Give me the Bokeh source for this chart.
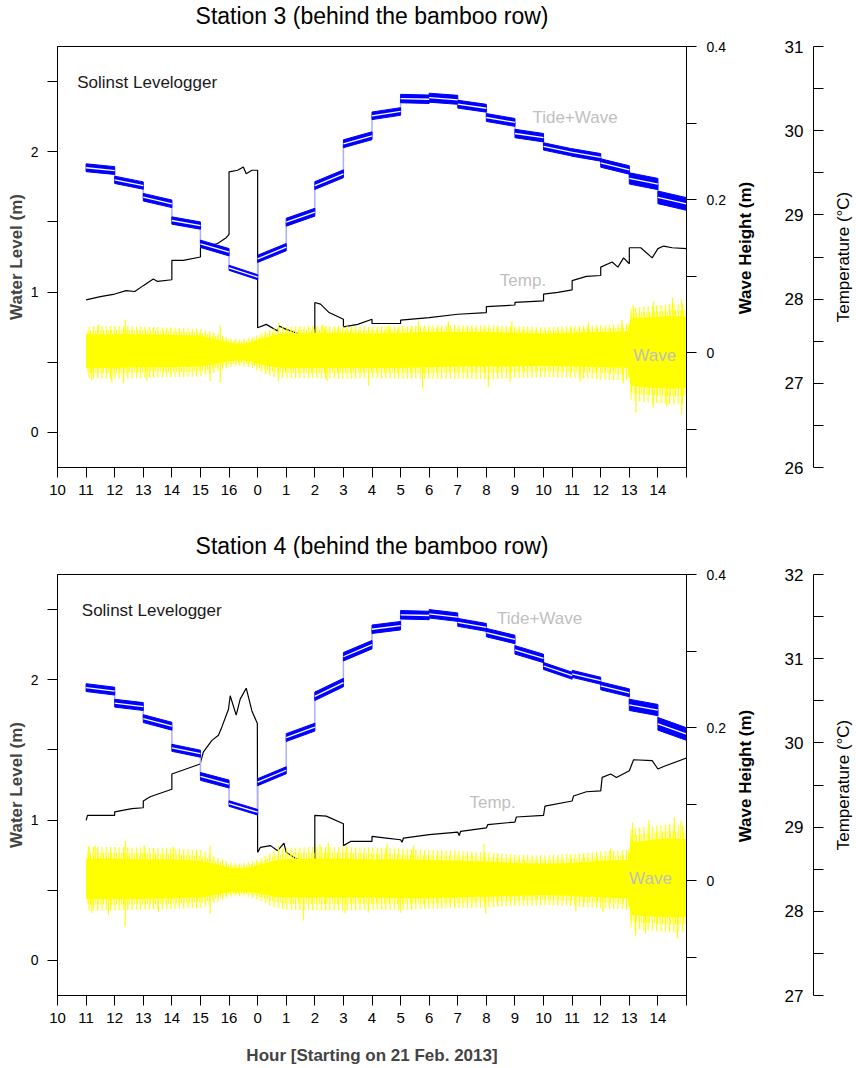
import math
from bokeh.plotting import figure
from bokeh.models import Range1d, LinearAxis, FixedTicker, Label
from bokeh.layouts import row, column
from bokeh.embed import file_html
from bokeh.resources import INLINE
from bokeh.core.properties import value

FONT = "Liberation Sans"

# ---------------- data ----------------
hour_labels = ["10", "11", "12", "13", "14", "15", "16"] + [str(i) for i in range(15)] + [""]
seg_x0 = list(range(1, 22))  # hourly segments (11h ... 14h next day)

# Station 3 : tide+wave mean level per hourly segment (m)
st3_tide_start = [1.886, 1.800, 1.676, 1.510, 1.344, 1.173, 1.237, 1.498, 1.759, 2.057, 2.256,
                  2.379, 2.385, 2.339, 2.244, 2.130, 2.038, 1.995, 1.920, 1.810, 1.675]
st3_tide_end = [1.866, 1.759, 1.629, 1.474, 1.284, 1.106, 1.320, 1.569, 1.843, 2.114, 2.287,
                2.374, 2.370, 2.310, 2.209, 2.100, 1.995, 1.960, 1.870, 1.770, 1.628]
st3_tide_half = [0.028, 0.026, 0.027, 0.026, 0.026, 0.018, 0.026, 0.028, 0.028, 0.028, 0.027,
                 0.030, 0.032, 0.028, 0.028, 0.030, 0.026, 0.027, 0.030, 0.040, 0.045]

st3_temp_x = [1.0, 1.5, 2.0, 2.4, 2.7, 3.0, 3.35, 3.5, 4.0, 4.0, 4.4, 5.0, 5.0, 5.6, 5.9, 6.0, 6.0,
              6.3, 6.5, 6.6, 6.8, 7.0, 7.0, 7.3, 7.7, 7.75, 8.0, 8.5, 9.0, 9.0, 9.2, 9.5, 10.0, 10.0,
              10.5, 11.0, 11.0, 11.5, 12.0, 12.0, 13.0, 14.0, 15.0, 15.0, 16.0, 16.0, 17.0, 17.0,
              17.5, 18.0, 18.0, 18.5, 19.0, 19.0, 19.4, 19.6, 19.8, 20.0, 20.0, 20.4, 20.8, 21.0,
              21.2, 21.5, 22.0]
st3_temp_y = [27.99, 28.03, 28.06, 28.10, 28.09, 28.16, 28.24, 28.21, 28.23, 28.46, 28.46, 28.50,
              28.61, 28.66, 28.73, 28.77, 29.51, 29.53, 29.57, 29.49, 29.53, 29.53, 27.66, 27.70,
              27.62, 27.68, 27.64, 27.58, 27.53, 27.96, 27.94, 27.84, 27.76, 27.67, 27.70, 27.76,
              27.71, 27.71, 27.71, 27.75, 27.78, 27.82, 27.84, 27.91, 27.93, 27.96, 27.98, 28.06,
              28.08, 28.11, 28.22, 28.27, 28.28, 28.38, 28.44, 28.38, 28.49, 28.42, 28.61, 28.61,
              28.49, 28.60, 28.63, 28.61, 28.60]

wave_x = [1, 2, 3, 4, 5, 5.6, 6.0, 6.4, 6.8, 7.2, 7.6, 8, 9, 10, 11, 12, 13, 14, 15, 16, 17,
          18, 19, 19.95, 20.05, 20.5, 21, 21.5, 22]
st3_core_hi = [0.024, 0.024, 0.024, 0.023, 0.022, 0.017, 0.013, 0.011, 0.014, 0.019, 0.023, 0.025,
               0.026, 0.026, 0.025, 0.026, 0.027, 0.027, 0.027, 0.026, 0.025, 0.026, 0.027, 0.028,
               0.045, 0.046, 0.047, 0.048, 0.047]
st3_core_lo = [-0.020, -0.020, -0.019, -0.019, -0.018, -0.014, -0.011, -0.010, -0.012, -0.016,
               -0.019, -0.020, -0.020, -0.020, -0.020, -0.020, -0.019, -0.018, -0.018, -0.018,
               -0.017, -0.018, -0.019, -0.020, -0.043, -0.045, -0.046, -0.047, -0.046]
st3_fringe_hi = [0.034, 0.035, 0.034, 0.033, 0.031, 0.025, 0.019, 0.017, 0.020, 0.027, 0.032,
                 0.034, 0.035, 0.035, 0.034, 0.035, 0.036, 0.036, 0.036, 0.035, 0.033, 0.035,
                 0.036, 0.037, 0.058, 0.060, 0.062, 0.064, 0.063]
st3_fringe_lo = [-0.033, -0.034, -0.033, -0.032, -0.031, -0.025, -0.019, -0.017, -0.020, -0.027,
                 -0.032, -0.033, -0.033, -0.034, -0.033, -0.034, -0.034, -0.034, -0.035, -0.033,
                 -0.032, -0.033, -0.035, -0.036, -0.062, -0.064, -0.066, -0.068, -0.066]
st3_up_x = [1.43, 2.37, 5.69, 7.73, 9.28, 11.57, 12.62, 13.67, 15.89, 18.57, 19.74, 20.14, 20.84,
            21.51, 21.83]
st3_up_y = [0.037, 0.043, 0.036, 0.039, 0.037, 0.036, 0.041, 0.041, 0.041, 0.039, 0.043, 0.062,
            0.067, 0.072, 0.070]
st3_dn_x = [1.2, 1.90, 2.31, 3.13, 5.34, 5.69, 7.73, 9.42, 10.88, 12.77, 15.07, 15.83, 18.28,
            19.79, 20.23, 20.84, 21.31, 21.83]
st3_dn_y = [-0.036, -0.039, -0.040, -0.037, -0.037, -0.039, -0.037, -0.037, -0.043, -0.047,
            -0.045, -0.038, -0.038, -0.040, -0.078, -0.072, -0.070, -0.080]

# Station 4
st4_tide_start = [1.944, 1.833, 1.723, 1.515, 1.311, 1.118, 1.270, 1.588, 1.882, 2.164, 2.360,
                  2.463, 2.470, 2.409, 2.336, 2.213, 2.098, 2.042, 1.956, 1.821, 1.686]
st4_tide_end = [1.919, 1.809, 1.669, 1.473, 1.257, 1.056, 1.355, 1.662, 1.980, 2.250, 2.385,
                2.458, 2.446, 2.373, 2.287, 2.152, 2.029, 1.993, 1.907, 1.784, 1.613]
st4_tide_half = [0.028, 0.028, 0.028, 0.025, 0.028, 0.020, 0.025, 0.028, 0.030, 0.030, 0.030,
                 0.030, 0.030, 0.028, 0.030, 0.030, 0.025, 0.025, 0.028, 0.040, 0.045]

st4_temp_x = [1.0, 1.05, 2.0, 2.0, 2.6, 3.0, 3.0, 3.24, 4.0, 4.0, 4.99, 5.1, 5.4, 5.63, 5.75, 5.98,
              6.04, 6.25, 6.39, 6.6, 6.8, 6.99, 7.0, 7.1, 7.45, 7.7, 7.92, 8.0, 8.5, 9.0, 9.0, 9.4,
              10.0, 10.0, 10.25, 11.0, 11.0, 11.5, 12.0, 12.05, 12.1, 13.0, 14.0, 14.05, 14.1,
              15.0, 15.05, 16.0, 16.05, 17.0, 17.05, 18.0, 18.05, 18.5, 19.0, 19.05, 19.35, 19.55,
              20.0, 20.15, 20.8, 21.0, 21.2, 22.0]
st4_temp_y = [29.08, 29.14, 29.14, 29.18, 29.22, 29.23, 29.31, 29.36, 29.45, 29.63, 29.75, 29.89,
              30.03, 30.09, 30.19, 30.40, 30.56, 30.33, 30.52, 30.65, 30.38, 30.23, 28.70, 28.76,
              28.78, 28.72, 28.81, 28.70, 28.59, 28.57, 29.14, 29.13, 29.04, 28.78, 28.83, 28.83,
              28.89, 28.87, 28.85, 28.82, 28.87, 28.91, 28.94, 28.90, 28.95, 28.99, 29.03, 29.06,
              29.12, 29.14, 29.25, 29.31, 29.37, 29.42, 29.43, 29.59, 29.63, 29.59, 29.67, 29.80,
              29.79, 29.69, 29.72, 29.82]

st4_core_hi = [0.029, 0.029, 0.028, 0.028, 0.026, 0.021, 0.017, 0.016, 0.018, 0.022, 0.026, 0.028,
               0.029, 0.029, 0.028, 0.028, 0.027, 0.026, 0.025, 0.023, 0.022, 0.023, 0.026, 0.027,
               0.050, 0.052, 0.054, 0.055, 0.054]
st4_core_lo = [-0.024, -0.024, -0.024, -0.023, -0.022, -0.018, -0.015, -0.014, -0.015, -0.018,
               -0.021, -0.022, -0.022, -0.022, -0.022, -0.023, -0.023, -0.022, -0.021, -0.020,
               -0.019, -0.020, -0.022, -0.023, -0.045, -0.046, -0.047, -0.048, -0.047]
st4_fringe_hi = [0.044, 0.044, 0.043, 0.042, 0.040, 0.030, 0.024, 0.022, 0.025, 0.031, 0.039,
                 0.043, 0.044, 0.044, 0.043, 0.042, 0.040, 0.039, 0.037, 0.034, 0.033, 0.035,
                 0.038, 0.040, 0.068, 0.070, 0.072, 0.074, 0.072]
st4_fringe_lo = [-0.039, -0.039, -0.038, -0.037, -0.036, -0.028, -0.021, -0.020, -0.022, -0.028,
                 -0.035, -0.038, -0.039, -0.039, -0.038, -0.038, -0.037, -0.036, -0.035, -0.033,
                 -0.032, -0.033, -0.036, -0.038, -0.062, -0.064, -0.066, -0.068, -0.066]
st4_up_x = [1.08, 1.32, 2.37, 3.03, 4.05, 5.34, 7.73, 9.18, 9.47, 10.1, 11.52, 12.45, 14.92,
            19.35, 20.11, 20.69, 21.57, 21.8]
st4_up_y = [0.045, 0.046, 0.052, 0.046, 0.044, 0.046, 0.046, 0.047, 0.049, 0.046, 0.048, 0.046,
            0.048, 0.042, 0.076, 0.079, 0.083, 0.078]
st4_dn_x = [1.2, 1.78, 2.37, 3.53, 5.34, 8.6, 10.06, 10.87, 11.99, 14.98, 18.13, 19.07, 20.22,
            20.57, 21.68]
st4_dn_y = [-0.042, -0.045, -0.060, -0.041, -0.043, -0.052, -0.043, -0.042, -0.042, -0.043,
            -0.040, -0.041, -0.072, -0.069, -0.075]

assert len(st3_temp_x) == len(st3_temp_y) and len(st4_temp_x) == len(st4_temp_y)

MAIN_W = 736
TOP = 16      # border above each frame (below its title strip)
TITLE_H = 30  # height of the strip that carries each panel title


def main_panel(tide_s, tide_e, tide_h, tx, ty, chi, clo, fhi, flo, ux, uy, dx, dy,
               trange, H, B, pos, xlabel=None):
    p = figure(width=MAIN_W, height=H, x_range=Range1d(0, 22), y_range=Range1d(-0.25, 2.75),
               output_backend="svg", toolbar_location=None,
               min_border_left=57, min_border_right=MAIN_W - 686, min_border_top=TOP,
               min_border_bottom=B)
    p.extra_y_ranges = {"wave": Range1d(-0.15, 0.4), "temp": Range1d(*trange)}
    p.grid.visible = False
    p.outline_line_color = "black"
    p.outline_line_width = 1

    xa = p.xaxis[0]
    xa.ticker = FixedTicker(ticks=list(range(23)))
    xa.major_label_overrides = {i: lab for i, lab in enumerate(hour_labels)}
    xa.major_tick_out = 10
    xa.major_tick_in = 0
    xa.minor_tick_out = 0
    xa.major_label_standoff = 7
    xa.major_label_text_font = FONT
    xa.major_label_text_font_size = "15px"
    xa.major_label_text_color = "black"
    if xlabel:
        xa.axis_label = xlabel
        xa.axis_label_text_font = FONT
        xa.axis_label_text_font_size = "17px"
        xa.axis_label_text_font_style = "bold"
        xa.axis_label_standoff = 20

    ya = p.yaxis[0]
    ya.ticker = FixedTicker(ticks=[0, 1, 2], minor_ticks=[0.5, 1.5, 2.5])
    ya.major_tick_out = 10
    ya.major_tick_in = 0
    ya.minor_tick_out = 10
    ya.minor_tick_in = 0
    ya.major_label_standoff = 9
    ya.major_label_text_font = FONT
    ya.major_label_text_font_size = "14px"
    ya.major_label_text_color = "black"
    ya.axis_label = "Water Level (m)"
    ya.axis_label_text_font = FONT
    ya.axis_label_text_font_size = "17px"
    ya.axis_label_text_font_style = "bold"
    ya.axis_label_standoff = 2

    wa = LinearAxis(y_range_name="wave",
                    ticker=FixedTicker(ticks=[0, 0.2, 0.4], minor_ticks=[-0.1, 0.1, 0.3]),
                    major_label_overrides={0: "0", 0.2: "0.2", 0.4: "0.4"},
                    major_tick_out=10, major_tick_in=0, minor_tick_out=10, minor_tick_in=0,
                    major_label_standoff=10, major_label_text_font=FONT,
                    major_label_text_font_size="14px", major_label_text_color="black")
    p.add_layout(wa, "right")

    # temperature line
    p.line(tx, ty, y_range_name="temp", line_color="black", line_width=1.2)

    # wave band: striped fringe, solid core, individual spikes
    p.varea(x=wave_x, y1=flo, y2=fhi, y_range_name="wave", fill_color=None, fill_alpha=0,
            hatch_pattern="vertical_line", hatch_color="#ffff00", hatch_scale=4.3,
            hatch_weight=1.2)
    p.varea(x=wave_x, y1=[(a + b) / 2 for a, b in zip(flo, clo)],
            y2=[(a + b) / 2 for a, b in zip(fhi, chi)], y_range_name="wave",
            fill_color=None, fill_alpha=0, hatch_pattern="vertical_line",
            hatch_color="#ffff00", hatch_scale=2.6, hatch_weight=1.3)
    p.varea(x=wave_x, y1=clo, y2=chi, y_range_name="wave", fill_color="#ffff00")
    p.segment(x0=ux, y0=[0] * len(ux), x1=ux, y1=uy, y_range_name="wave",
              line_color="#ffff00", line_width=1.2)
    p.segment(x0=dx, y0=[0] * len(dx), x1=dx, y1=dy, y_range_name="wave",
              line_color="#ffff00", line_width=1.2)

    # tide + wave band
    p.segment(x0=seg_x0[1:], y0=tide_e[:-1], x1=seg_x0[1:], y1=tide_s[1:],
              line_color="#aab0ff", line_width=1.5)
    xs = [[k, k + 1, k + 1, k] for k in seg_x0]
    ys = [[s - h, e - h, e + h, s + h] for s, e, h in zip(tide_s, tide_e, tide_h)]
    p.patches(xs, ys, fill_color="#0000ff", line_color="#0000ff", line_width=1)
    p.multi_line([[k, k + 1] for k in seg_x0], [[s, e] for s, e in zip(tide_s, tide_e)],
                 line_color="white", line_width=1.3)

    def lab(text, x, y, size, color="black", align="center"):
        p.add_layout(Label(x=x, y=y, text=text, text_font=FONT, text_font_size=size,
                           text_color=color, text_align=align, text_baseline="middle"))

    lab("Solinst Levelogger", pos["sol"][0], pos["sol"][1], "17px", color="#1a1a1a", align="left")
    lab("Tide+Wave", pos["tide"][0], pos["tide"][1], "17px", color="#c0c0c0")
    lab("Temp.", pos["temp"][0], pos["temp"][1], "17px", color="#c0c0c0")
    lab("Wave", pos["wave"][0], pos["wave"][1], "17px", color="#c0c0c0")
    return p


def blank(width, H, B, yr, left=0, top=TOP, xr=(0, 1)):
    f = figure(width=width, height=H, x_range=Range1d(*xr), y_range=Range1d(*yr),
               x_axis_location=None, y_axis_location=None, output_backend="svg",
               toolbar_location=None, min_border_left=left, min_border_right=0,
               min_border_top=top, min_border_bottom=B)
    f.outline_line_color = None
    f.grid.visible = False
    return f


def title_strip(text, cy):
    # a strip of TITLE_H px; the title is centred over the plot frame (x = 371.5 px)
    s = blank(856, TITLE_H, 0, (0, TITLE_H), top=0, xr=(0, 856))
    s.text(x=[371.5], y=[TITLE_H - cy], text=[text], text_font=value(FONT),
           text_font_size="23px", text_align="center", text_baseline="middle",
           text_color="black")
    return s


def wave_label_panel(H, B):
    # holds the rotated right-axis title "Wave Height (m)" (x centre at 745 px)
    u = blank(45, H, B, (-0.25, 2.75))
    u.text(x=[(745 - MAIN_W) / 45], y=[1.314], text=["Wave Height (m)"], angle=math.pi / 2,
           text_font=value(FONT), text_font_size="17px", text_font_style="bold",
           text_align="center", text_baseline="middle", text_color="black")
    return u


def temp_panel(trange, H, B):
    t = blank(75, H, B, trange, left=30)
    lo, hi = trange
    ax = LinearAxis(ticker=FixedTicker(ticks=list(range(lo, hi + 1)),
                                       minor_ticks=[v + 0.5 for v in range(lo, hi)]),
                    major_tick_out=0, major_tick_in=10, minor_tick_out=0, minor_tick_in=10,
                    major_label_standoff=10, major_label_text_font=FONT,
                    major_label_text_font_size="17px", major_label_text_color="black")
    t.add_layout(ax, "left")
    t.text(x=[(842 - 811) / 45], y=[(lo + hi) / 2], text=["Temperature (°C)"],
           angle=math.pi / 2, text_font=value(FONT), text_font_size="17px",
           text_align="center", text_baseline="middle", text_color="black")
    return t


H1 = 528 - TITLE_H
H2 = 540 - TITLE_H
p1 = main_panel(st3_tide_start, st3_tide_end, st3_tide_half,
                st3_temp_x, st3_temp_y, st3_core_hi, st3_core_lo, st3_fringe_hi, st3_fringe_lo,
                st3_up_x, st3_up_y, st3_dn_x, st3_dn_y, (26, 31), H1, 61,
                {"sol": (0.69, 2.495), "tide": (18.1, 2.246), "temp": (16.28, 1.082),
                 "wave": (20.89, 0.548)})
p2 = main_panel(st4_tide_start, st4_tide_end, st4_tide_half,
                st4_temp_x, st4_temp_y, st4_core_hi, st4_core_lo, st4_fringe_hi, st4_fringe_lo,
                st4_up_x, st4_up_y, st4_dn_x, st4_dn_y, (27, 32), H2, 73,
                {"sol": (0.85, 2.49), "tide": (16.86, 2.439), "temp": (15.22, 1.123),
                 "wave": (20.74, 0.586)},
                xlabel="Hour [Starting on 21 Feb. 2013]")

layout = column(title_strip("Station 3 (behind the bamboo row)", 15),
                row(p1, wave_label_panel(H1, 61), temp_panel((26, 31), H1, 61)),
                title_strip("Station 4 (behind the bamboo row)", 17),
                row(p2, wave_label_panel(H2, 73), temp_panel((27, 32), H2, 73)))
open("out.html", "w").write(file_html(layout, INLINE))
